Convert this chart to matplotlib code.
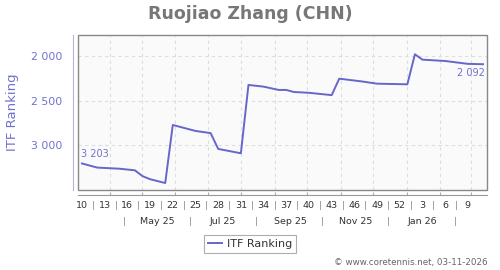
import datetime as dt
import matplotlib
matplotlib.use("Agg")
import matplotlib.pyplot as plt
from matplotlib.patches import Rectangle
from matplotlib.ticker import FuncFormatter, FixedLocator

# ---- data (weekly ITF ranking, week index from Mon 3 Mar 2025) ----
weeks = [0, 2, 5, 7, 8, 9, 11, 12, 15, 17, 18, 21, 22, 24, 26, 27, 28, 30,
         33, 34, 37, 39, 43, 44, 45, 48, 51, 53]
ranking = [3203, 3249, 3262, 3280, 3345, 3379, 3422, 2772, 2839, 2863, 3040,
           3089, 2324, 2343, 2380, 2380, 2403, 2412, 2438, 2254, 2285, 2310,
           2317, 1981, 2041, 2056, 2088, 2092]
week_labels = ["10", "13", "16", "19", "22", "25", "28", "31", "34", "37",
               "40", "43", "46", "49", "52", "3", "6", "9"]
month_labels = ["May 25", "Jul 25", "Sep 25", "Nov 25", "Jan 26"]
title = "Ruojiao Zhang (CHN)"
series_name = "ITF Ranking"
footer = "\u00a9 www.coretennis.net, 03-11-2026"

base = dt.date(2025, 3, 3)
OFF = 3.5  # plot each week at its centre

x = [7 * w + OFF for w in weeks]

BLUE = "#6666cc"
TXT = "#7070d0"

fig = plt.figure(figsize=(5, 2.7), dpi=100)
ax = fig.add_axes([78 / 500, 1 - 190 / 270, (487 - 78) / 500, (190 - 35) / 270])
ax.set_facecolor("#fafafa")

ax.plot(x, ranking, color=BLUE, lw=1.4, label=series_name, solid_joinstyle="round")
ax.set_xlim(-0.2, 378.2)
ax.set_ylim(3500, 1765)

# grid at month starts
months = []
y, m = 2025, 4
while (y, m) <= (2026, 3):
    months.append((dt.date(y, m, 1) - base).days)
    m += 1
    if m > 12:
        m, y = 1, y + 1
ax.xaxis.set_major_locator(FixedLocator(months))
ax.yaxis.set_major_locator(FixedLocator([2000, 2500, 3000]))
ax.yaxis.set_major_formatter(FuncFormatter(lambda v, p: f"{int(v):,}".replace(",", " ")))
ax.grid(True, color="#dddddd", ls=(0, (3, 3)), lw=0.8)

for s in ("top", "right"):
    ax.spines[s].set_visible(False)
ax.spines["bottom"].set_position(("outward", 3.6))
ax.spines["bottom"].set_color("#999999")
ax.spines["left"].set_position(("outward", 3.6))
ax.spines["left"].set_color("#b4b4e6")
ax.add_patch(Rectangle((0, 0), 1, 1, transform=ax.transAxes, fill=False,
                       ec="#888888", lw=1.0, clip_on=False, zorder=5))
ax.tick_params(axis="x", direction="in", length=2.2, color="#aaaaaa",
               labelbottom=False)
ax.tick_params(axis="y", length=0, pad=8, labelsize=7.8, labelcolor=TXT)
ax.set_ylabel(series_name, color=TXT, fontsize=9.5, labelpad=8)

# week labels row
trans = ax.get_xaxis_transform()
yw = -(205 - 190) / 155
ym = -(221 - 190) / 155
for k, lab in enumerate(week_labels):
    xc = OFF + 21 * k
    ax.text(xc, yw, lab, transform=trans, ha="center", va="center",
            fontsize=6.8, color="#333333", clip_on=False)
    if k < len(week_labels) - 1:
        ax.text(xc + 10.5, yw, "|", transform=trans, ha="center", va="center",
                fontsize=6.8, color="#888888", clip_on=False)

# month labels row
mid_months = [(2025, 5), (2025, 7), (2025, 9), (2025, 11), (2026, 1)]
for lab, (yy, mm) in zip(month_labels, mid_months):
    xc = (dt.date(yy, mm, 15) - base).days
    ax.text(xc, ym, lab, transform=trans, ha="center", va="center",
            fontsize=6.8, color="#333333", clip_on=False)
for (yy, mm) in [(2025, 4), (2025, 6), (2025, 8), (2025, 10), (2025, 12), (2026, 2)]:
    xs = (dt.date(yy, mm, 15) - base).days
    ax.text(xs, ym, "|", transform=trans, ha="center", va="center",
            fontsize=6.8, color="#888888", clip_on=False)

# first / last value labels
ax.annotate(f"{ranking[0]:,}".replace(",", " "), (x[0], ranking[0]),
            xytext=(-1, 3.5), textcoords="offset points", ha="left", va="bottom",
            fontsize=7, color=TXT)
ax.annotate(f"{ranking[-1]:,}".replace(",", " "), (x[-1], ranking[-1]),
            xytext=(1, -3), textcoords="offset points", ha="right", va="top",
            fontsize=7, color=TXT)

fig.text(0.5, 1 - 14 / 270, title, ha="center", va="center", fontsize=12.5,
         fontweight="bold", color="#777777")

leg = ax.legend(loc="center", bbox_to_anchor=(0.5, 1 - 244 / 270),
                bbox_transform=fig.transFigure, fontsize=8, frameon=True,
                fancybox=False, edgecolor="#999999", handlelength=1.3,
                handletextpad=0.4, borderpad=0.35, borderaxespad=0)
leg.get_frame().set_linewidth(0.8)
for t in leg.get_texts():
    t.set_color("#333333")

fig.text(488 / 500, 1 - 263 / 270, footer, ha="right", va="center",
         fontsize=6.3, color="#666666")

fig.savefig("out.png", dpi=100)
